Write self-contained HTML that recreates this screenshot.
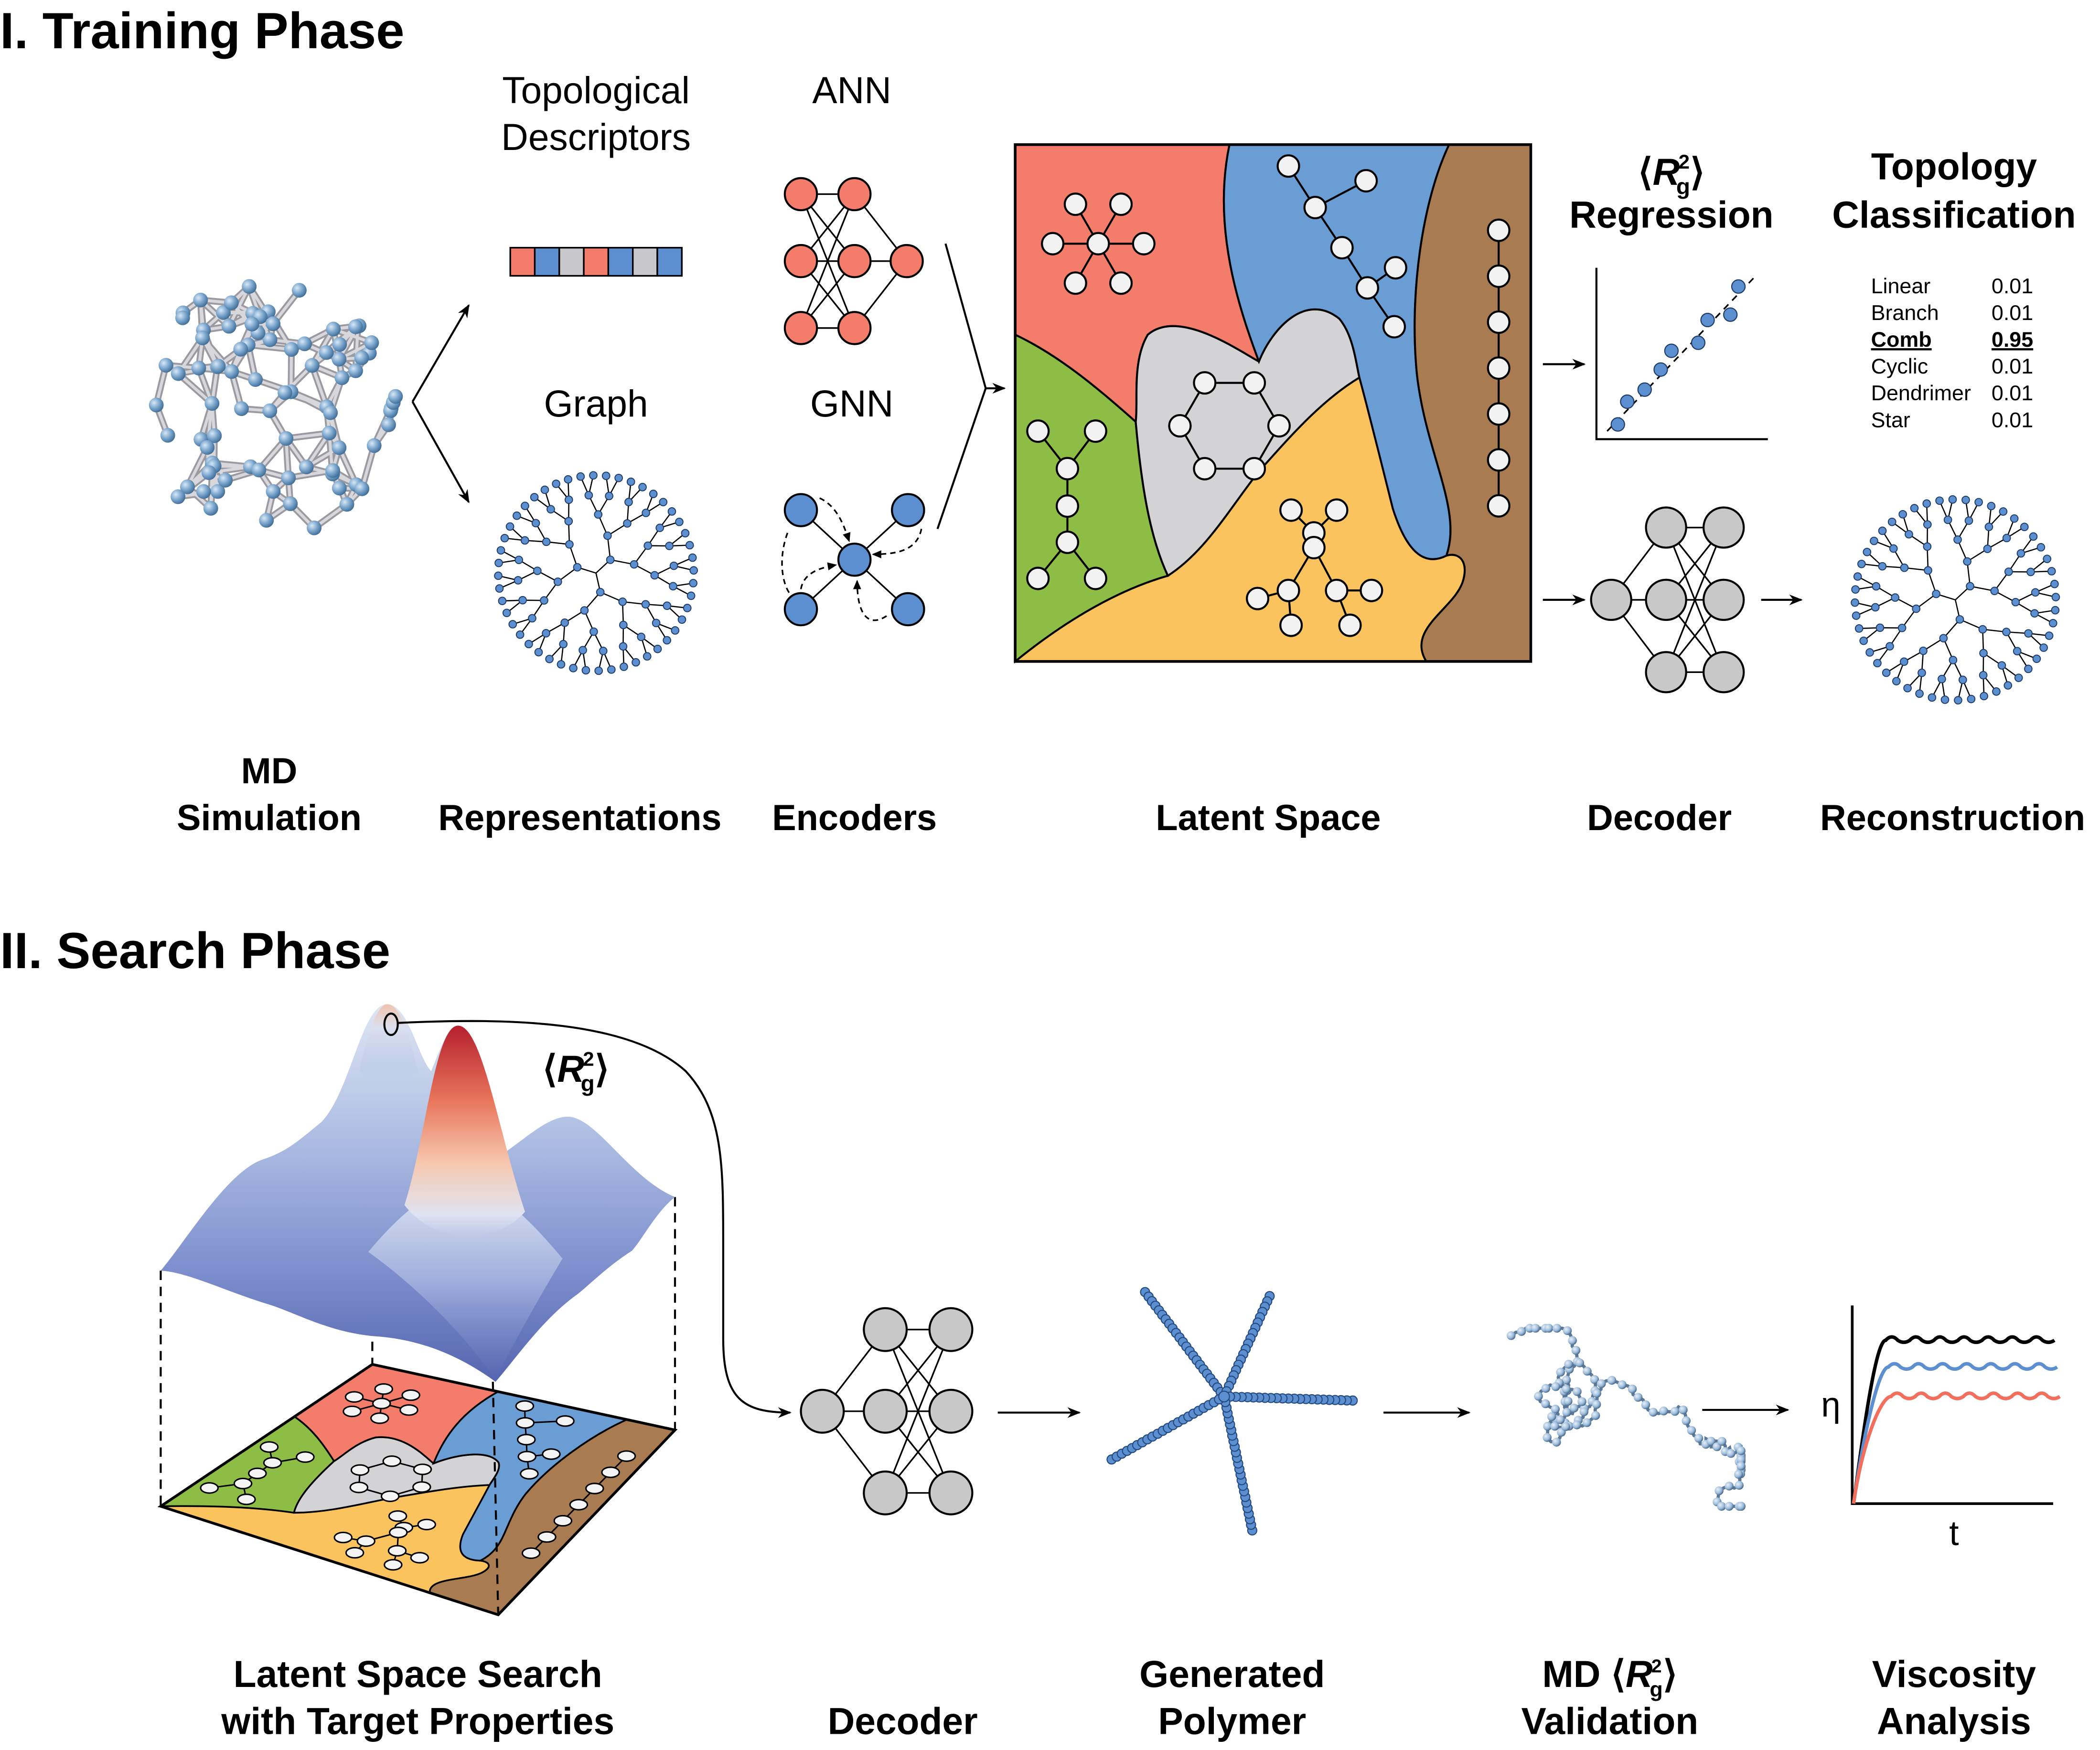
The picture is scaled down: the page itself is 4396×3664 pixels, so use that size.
<!DOCTYPE html>
<html><head><meta charset="utf-8">
<style>
html,body{margin:0;padding:0;background:#fff;}
svg{display:block;}
text{font-family:"Liberation Sans",Arial,sans-serif;}
</style></head>
<body>
<svg id="s" width="4396" height="3664" viewBox="0 0 1568 1307" preserveAspectRatio="none" xmlns="http://www.w3.org/2000/svg">
<defs>
<marker id="ah" markerWidth="10" markerHeight="10" refX="9" refY="5" orient="auto" markerUnits="userSpaceOnUse"><path d="M0,1 L10,5 L0,9 L3,5Z" fill="#000"/></marker>
<marker id="ahs" markerWidth="7" markerHeight="7" refX="6" refY="3.5" orient="auto" markerUnits="userSpaceOnUse"><path d="M0,0.5 L7,3.5 L0,6.5Z" fill="#000"/></marker>
<radialGradient id="ball" cx="0.35" cy="0.35" r="0.7"><stop offset="0" stop-color="#d8e8f6"/><stop offset="0.5" stop-color="#7fa9cf"/><stop offset="1" stop-color="#3d6b95"/></radialGradient>
<radialGradient id="ball2" cx="0.35" cy="0.35" r="0.7"><stop offset="0" stop-color="#e8f0f8"/><stop offset="0.6" stop-color="#9cbcdb"/><stop offset="1" stop-color="#3f6184"/></radialGradient>
<linearGradient id="surf" x1="0" y1="0" x2="0" y2="1"><stop offset="0" stop-color="#dfe6f3"/><stop offset="0.3" stop-color="#b4c4e6"/><stop offset="0.7" stop-color="#7d8fcd"/><stop offset="1" stop-color="#5566b0"/></linearGradient>
<linearGradient id="redpk" x1="0" y1="0" x2="0" y2="1"><stop offset="0" stop-color="#b5202e"/><stop offset="0.35" stop-color="#e8745a"/><stop offset="0.65" stop-color="#f6c7ae"/><stop offset="0.9" stop-color="#dfe4f2"/><stop offset="1" stop-color="#c9d4ee" stop-opacity="0"/></linearGradient>
<linearGradient id="hill" x1="0" y1="0" x2="0" y2="1"><stop offset="0" stop-color="#e9ecf6" stop-opacity="0.9"/><stop offset="0.5" stop-color="#b8c6e8" stop-opacity="0.6"/><stop offset="1" stop-color="#7d8fcd" stop-opacity="0"/></linearGradient>
<linearGradient id="lpk" x1="0" y1="0" x2="0" y2="1"><stop offset="0" stop-color="#f1c3ac"/><stop offset="0.3" stop-color="#dce0ee"/><stop offset="1" stop-color="#a9bce4" stop-opacity="0"/></linearGradient>
</defs>
<g id="root"></g>
</svg>
<script>
(function(){
var o=[];
function t(x,y,s,size,opt){opt=opt||{};o.push('<text x="'+x+'" y="'+y+'" font-size="'+size+'"'+(opt.b?' font-weight="bold"':'')+' text-anchor="'+(opt.a||'middle')+'"'+(opt.u?' text-decoration="underline"':'')+'>'+s+'</text>');}
function ln(x1,y1,x2,y2,w,extra){o.push('<line x1="'+x1+'" y1="'+y1+'" x2="'+x2+'" y2="'+y2+'" stroke="#000" stroke-width="'+(w||1.5)+'" '+(extra||'')+'/>');}
function c(x,y,r,f,sw){o.push('<circle cx="'+x+'" cy="'+y+'" r="'+r+'" fill="'+f+'" stroke="#000" stroke-width="'+(sw||1.5)+'"/>');}
function p(d,f,extra){o.push('<path d="'+d+'" fill="'+(f||'none')+'" '+(extra||'stroke="#000" stroke-width="1.5"')+'/>');}
var seed=7;function rnd(){seed=(seed*16807)%2147483647;return (seed-1)/2147483646;}

t(0,36,'I. Training Phase',38,{b:1,a:'start'});
t(0,723,'II. Search Phase',38,{b:1,a:'start'});
t(445,77,'Topological',28);t(445,112,'Descriptors',28);
t(636,77,'ANN',28);t(445,311,'Graph',28);t(636,311,'GNN',28);
t(201,585,'MD',27,{b:1});t(201,620,'Simulation',27,{b:1});
t(433,620,'Representations',27,{b:1});t(638,620,'Encoders',27,{b:1});
t(947,620,'Latent Space',27,{b:1});t(1239,620,'Decoder',27,{b:1});t(1458,620,'Reconstruction',27,{b:1});

var nodes=[];
for(var i=0;i<85;i++){var a=rnd()*6.283,r=Math.sqrt(rnd());nodes.push([198+Math.cos(a)*r*98,305+Math.sin(a)*r*98]);}
var es=[];
for(var i=0;i<nodes.length;i++){var cnt=0;for(var j=i+1;j<nodes.length;j++){var dx=nodes[i][0]-nodes[j][0],dy=nodes[i][1]-nodes[j][1];if(dx*dx+dy*dy<34*34&&cnt<3){es.push([i,j]);cnt++;}}}
es.forEach(function(e){var a=nodes[e[0]],b=nodes[e[1]];o.push('<line x1="'+a[0]+'" y1="'+a[1]+'" x2="'+b[0]+'" y2="'+b[1]+'" stroke="#9a9aa0" stroke-width="5" stroke-linecap="round"/>');});
es.forEach(function(e){var a=nodes[e[0]],b=nodes[e[1]];o.push('<line x1="'+a[0]+'" y1="'+a[1]+'" x2="'+b[0]+'" y2="'+b[1]+'" stroke="#d8d8dc" stroke-width="2.2" stroke-linecap="round"/>');});
nodes.forEach(function(n){o.push('<circle cx="'+n[0]+'" cy="'+n[1]+'" r="5.5" fill="url(#ball)"/>');});

ln(308,300,350,228,1.5,'marker-end="url(#ah)"');ln(308,300,350,375,1.5,'marker-end="url(#ah)"');

var cols=['#f47c6a','#5b8fd0','#c8c8cc','#f47c6a','#5b8fd0','#c8c8cc','#5b8fd0'];
cols.forEach(function(cc,i){o.push('<rect x="'+(381+i*18.3)+'" y="185" width="18.3" height="21" fill="'+cc+'" stroke="#000" stroke-width="1.2"/>');});

function tree(cx,cy,R){
  var lv=[0,0.2,0.4,0.6,0.8,1.0];var segs=[],dots=[];
  function rec(a0,a1,depth,px,py){
    var a=(a0+a1)/2;var r=R*lv[depth];var x=cx+Math.cos(a)*r,y=cy+Math.sin(a)*r;
    if(depth>0){segs.push([px,py,x,y]);dots.push([x,y]);}
    if(depth<5){var n=depth==0?3:2;for(var k=0;k<n;k++){rec(a0+(a1-a0)*k/n,a0+(a1-a0)*(k+1)/n,depth+1,x,y);}}
  }
  rec(0.3,0.3+6.283,0,cx,cy);
  segs.forEach(function(s){o.push('<line x1="'+s[0]+'" y1="'+s[1]+'" x2="'+s[2]+'" y2="'+s[3]+'" stroke="#000" stroke-width="0.9"/>');});
  dots.forEach(function(d){o.push('<circle cx="'+d[0]+'" cy="'+d[1]+'" r="2.8" fill="#5b8fd0" stroke="#1e3c66" stroke-width="0.7"/>');});
}
tree(445,428,73);
tree(1460,448,75);

var red='#f47c6a',blue='#5b8fd0',gray='#c8c8c8';
[145,195,245].forEach(function(y1){[145,195,245].forEach(function(y2){ln(598,y1,638,y2,1.2);});ln(638,y1,677,195,1.2);});
[145,195,245].forEach(function(y){c(598,y,12,red);c(638,y,12,red);});c(677,195,12,red);
[[598,381],[678,381],[598,455],[678,455]].forEach(function(q){ln(q[0],q[1],638,418,1.2);});
p('M588,398 C580,420 585,440 592,446','none','stroke="#000" stroke-width="1.2" stroke-dasharray="4,3"');
p('M612,372 C625,378 630,392 634,404','none','stroke="#000" stroke-width="1.2" stroke-dasharray="4,3" marker-end="url(#ahs)"');
p('M688,395 C685,410 672,414 652,414','none','stroke="#000" stroke-width="1.2" stroke-dasharray="4,3" marker-end="url(#ahs)"');
p('M662,460 C650,468 640,462 640,434','none','stroke="#000" stroke-width="1.2" stroke-dasharray="4,3" marker-end="url(#ahs)"');
p('M598,440 C600,428 612,424 624,422','none','stroke="#000" stroke-width="1.2" stroke-dasharray="4,3" marker-end="url(#ahs)"');
[[598,381],[678,381],[638,418],[598,455],[678,455]].forEach(function(q){c(q[0],q[1],12,blue);});
ln(706,182,736,290,1.5);ln(700,395,736,290,1.5);ln(736,290,750,290,1.5,'marker-end="url(#ah)"');

var X0=758,Y0=108,X1=1143,Y1=494;
var R={
 yellow:'M758,108 L1143,108 L1143,494 L758,494 Z',
 red:'M758,108 L918,108 C905,170 925,230 940,270 C925,262 880,230 857,250 C845,270 850,300 848,315 C820,290 790,265 758,250 Z',
 green:'M758,250 C790,265 820,290 848,315 C852,360 858,400 872,430 C830,442 790,468 758,494 Z',
 gray:'M848,315 C850,300 845,270 857,250 C880,230 925,262 940,270 C950,245 975,218 1000,238 C1010,250 1012,268 1015,282 C985,300 960,330 940,352 C918,380 900,412 872,430 C858,400 852,360 848,315 Z',
 blue:'M918,108 L1082,108 C1062,150 1052,220 1058,280 C1065,340 1092,380 1080,415 C1060,425 1048,405 1040,380 C1030,340 1020,300 1015,282 C1012,268 1010,250 1000,238 C975,218 950,245 940,270 C925,230 905,170 918,108 Z',
 brown:'M1082,108 L1143,108 L1143,494 L1065,494 C1050,470 1085,455 1092,435 C1097,420 1090,412 1080,415 C1092,380 1065,340 1058,280 C1052,220 1062,150 1082,108 Z'
};
var RC={yellow:'#fbc35d',red:'#f47c6a',green:'#8ebd45',gray:'#d3d3d5',blue:'#6a9dd4',brown:'#a97b51'};
var order=['yellow','red','green','gray','blue','brown'];
order.forEach(function(k){o.push('<path d="'+R[k]+'" fill="'+RC[k]+'" stroke="#000" stroke-width="1.5"/>');});
o.push('<rect x="758" y="108" width="385" height="386" fill="none" stroke="#000" stroke-width="2"/>');

var mols=[];
function star(cx,cy,rr){var n=[[cx,cy]],e=[];for(var i=0;i<6;i++){var a=i*Math.PI/3;n.push([cx+Math.cos(a)*rr,cy+Math.sin(a)*rr]);e.push([0,i+1]);}return {n:n,e:e};}
mols.push(star(820,182,34));
mols.push({n:[[962,124],[982,155],[1002,185],[1021,215],[1041,244],[1020,135],[1042,200]],e:[[0,1],[1,2],[2,3],[3,4],[1,5],[3,6]]});
var ring={n:[],e:[]};for(var i=0;i<6;i++){var a=i*Math.PI/3;ring.n.push([918+Math.cos(a)*37,318+Math.sin(a)*37]);ring.e.push([i,(i+1)%6]);}mols.push(ring);
mols.push({n:[[775,322],[818,322],[797,350],[797,378],[797,405],[775,432],[818,432]],e:[[0,2],[1,2],[2,3],[3,4],[4,5],[4,6]]});
mols.push({n:[[981,398],[964,381],[998,381],[981,409],[962,441],[998,441],[939,447],[964,467],[1008,467],[1024,441]],e:[[0,3],[3,4],[3,5],[4,6],[4,7],[5,8],[5,9],[0,1],[0,2]]});
var lin={n:[],e:[]};for(var i=0;i<7;i++){lin.n.push([1119,172+i*34.3]);if(i)lin.e.push([i-1,i]);}mols.push(lin);
mols.forEach(function(m){m.e.forEach(function(e){var a=m.n[e[0]],b=m.n[e[1]];ln(a[0],a[1],b[0],b[1],1.5);});m.n.forEach(function(q){c(q[0],q[1],8,'#f2f2f2');});});

ln(1152,272,1183,272,1.5,'marker-end="url(#ah)"');ln(1152,448,1183,448,1.5,'marker-end="url(#ah)"');
o.push('<text x="1248" y="138" font-size="28" text-anchor="middle" font-weight="bold">⟨<tspan font-style="italic">R</tspan><tspan font-size="15" dy="-12" dx="-1">2</tspan><tspan font-size="17" dy="19" dx="-10">g</tspan><tspan dy="-7">⟩</tspan></text>');
t(1248,170,'Regression',28,{b:1});
t(1459,134,'Topology',28,{b:1});t(1459,170,'Classification',28,{b:1});
p('M1192,200 L1192,328 L1320,328','none','stroke="#000" stroke-width="1.5"');
ln(1200,322,1310,207,1.2,'stroke-dasharray="5,4"');
[[1208,317],[1215,300],[1228,291],[1240,276],[1248,262],[1268,256],[1275,239],[1292,235],[1298,214]].forEach(function(q){o.push('<circle cx="'+q[0]+'" cy="'+q[1]+'" r="5" fill="#5b8fd0" stroke="#1e3c66" stroke-width="0.8"/>');});
var tb=[['Linear','0.01'],['Branch','0.01'],['Comb','0.95'],['Cyclic','0.01'],['Dendrimer','0.01'],['Star','0.01']];
tb.forEach(function(r,i){var u=i==2;t(1397,219+i*20,r[0],16,{a:'start',b:u,u:u});t(1487,219+i*20,r[1],16,{a:'start',b:u,u:u});});

function dec(x1,x2,x3,yc,dy,r){var ys=[yc-dy,yc,yc+dy];ys.forEach(function(y){ln(x1,yc,x2,y,1.2);ys.forEach(function(y2){ln(x2,y,x3,y2,1.2);});});ys.forEach(function(y){c(x2,y,r,gray);c(x3,y,r,gray);});c(x1,yc,r,gray);}
dec(1203,1244,1287,448,54,15);
ln(1315,448,1345,448,1.5,'marker-end="url(#ah)"');
dec(614,661,710,1054,61,16);

var T=[278,1019],Rr=[504,1068],B=[372,1206],L=[120,1125];
function mp(x,y){var u=(x-X0)/(X1-X0),v=(y-Y0)/(Y1-Y0);
 var px=T[0]*(1-u)*(1-v)+Rr[0]*u*(1-v)+B[0]*u*v+L[0]*(1-u)*v;
 var py=T[1]*(1-u)*(1-v)+Rr[1]*u*(1-v)+B[1]*u*v+L[1]*(1-u)*v;return [px.toFixed(1),py.toFixed(1)];}
function tp(d){return d.replace(/(-?[\d.]+),(-?[\d.]+)/g,function(m,a,b){var q=mp(+a,+b);return q[0]+','+q[1];});}
ln(120,949,120,1125,1.5,'stroke-dasharray="7,5"');ln(504,894,504,1068,1.5,'stroke-dasharray="7,5"');
ln(278,906,278,1019,1.5,'stroke-dasharray="7,5"');
order.forEach(function(k){o.push('<path d="'+tp(R[k])+'" fill="'+RC[k]+'" stroke="#000" stroke-width="1.3"/>');});
o.push('<path d="'+tp('M758,108 L1143,108 L1143,494 L758,494 Z')+'" fill="none" stroke="#000" stroke-width="2"/>');
ln(368,1032,372,1206,1.5,'stroke-dasharray="7,5"');
mols.forEach(function(m){m.e.forEach(function(e){var a=mp(m.n[e[0]][0],m.n[e[0]][1]),b=mp(m.n[e[1]][0],m.n[e[1]][1]);ln(a[0],a[1],b[0],b[1],1.1);});m.n.forEach(function(q){var a=mp(q[0],q[1]);o.push('<ellipse cx="'+a[0]+'" cy="'+a[1]+'" rx="6.5" ry="3.8" fill="#f4f4f4" stroke="#000" stroke-width="1.1"/>');});});

// surface
o.push('<path d="M120,949 C140,925 170,875 196,866 C215,860 225,850 240,838 C262,815 270,750 289,750 C305,750 312,790 322,800 C330,780 335,766 342,766 C352,766 365,820 378,860 C395,848 410,834 424,834 C445,834 470,880 504,894 C490,905 480,925 472,934 C455,945 445,955 432,966 C405,985 385,1015 370,1032 C340,1010 310,1000 280,998 C245,995 220,980 200,974 C170,965 140,950 120,949 Z" fill="url(#surf)"/>');
o.push('<path d="M268,800 C275,770 282,750 289,750 C298,750 305,770 312,800 C300,810 280,810 268,800Z" fill="url(#lpk)"/>');
o.push('<path d="M275,935 C300,905 325,885 345,885 C370,885 395,910 420,940 C405,965 385,1000 370,1030 C345,995 310,960 275,935 Z" fill="url(#hill)"/>');
o.push('<path d="M302,900 C318,850 325,766 342,766 C360,766 372,845 392,905 C370,930 325,930 302,900 Z" fill="url(#redpk)"/>');
o.push('<ellipse cx="292" cy="765" rx="5" ry="8" fill="none" stroke="#000" stroke-width="1.5"/>');
p('M297,764 C380,760 470,762 512,800 C540,830 540,870 540,930 L540,1000 C540,1045 555,1055 590,1055','none','stroke="#000" stroke-width="1.5" marker-end="url(#ah)"');
o.push('<text x="430" y="808" font-size="28" text-anchor="middle" font-weight="bold">⟨<tspan font-style="italic">R</tspan><tspan font-size="15" dy="-12" dx="-1">2</tspan><tspan font-size="17" dy="19" dx="-10">g</tspan><tspan dy="-7">⟩</tspan></text>');

ln(745,1055,806,1055,1.5,'marker-end="url(#ah)"');ln(1033,1055,1097,1055,1.5,'marker-end="url(#ah)"');ln(1271,1053,1335,1053,1.5,'marker-end="url(#ah)"');

var cx=914,cy=1043;
[[855,965],[948,968],[1010,1046],[935,1143],[830,1090]].forEach(function(e){var dx=e[0]-cx,dy=e[1]-cy,d=Math.sqrt(dx*dx+dy*dy),n=Math.round(d/4.3);for(var i=n;i>=1;i--){var x=cx+dx*i/n,y=cy+dy*i/n;o.push('<circle cx="'+x.toFixed(1)+'" cy="'+y.toFixed(1)+'" r="3.4" fill="#5b8fd0" stroke="#244a80" stroke-width="0.8"/>');}});
o.push('<circle cx="914" cy="1043" r="4" fill="#5b8fd0" stroke="#244a80" stroke-width="0.8"/>');

seed=42;var pts=[],x=1125,y=1000,ang=0.3;
for(var i=0;i<200;i++){
  var prog=i/200; var cxT=1130+prog*150, cyT=1010+prog*100;
  ang+=(rnd()-0.5)*1.9;
  var dx=cxT-x,dy=cyT-y,dd=Math.sqrt(dx*dx+dy*dy);
  if(dd>35){var ta=Math.atan2(dy,dx);ang=ang*0.6+ta*0.4;}
  x+=Math.cos(ang)*4.2;y+=Math.sin(ang)*4.2;
  x=Math.max(1115,Math.min(1300,x));y=Math.max(992,Math.min(1125,y));
  pts.push([x,y]);}
var dd='M'+pts.map(function(q){return q[0].toFixed(1)+','+q[1].toFixed(1);}).join(' L');
o.push('<path d="'+dd+'" fill="none" stroke="#5b7896" stroke-width="2.4"/>');
pts.forEach(function(q,i){if(i%2==0)o.push('<circle cx="'+q[0].toFixed(1)+'" cy="'+q[1].toFixed(1)+'" r="3.3" fill="url(#ball2)"/>');});

p('M1383,975 L1383,1123 L1533,1123','none','stroke="#000" stroke-width="2"');
function vc(yp,col,x0){var d='M1384,1123 C1390,1080 '+(x0-8)+','+yp+' '+x0+','+yp;for(var xx=x0;xx<1525;xx+=18){d+=' Q'+(xx+4.5)+','+(yp-5)+' '+(xx+9)+','+yp+' Q'+(xx+13.5)+','+(yp+3)+' '+(xx+18)+','+yp;}o.push('<path d="'+d+'" fill="none" stroke="'+col+'" stroke-width="2.6"/>');}
vc(1001,'#000',1408);vc(1021,'#5b8fd0',1410);vc(1043,'#f26f5e',1412);
t(1367,1058,'η',26,{});t(1459,1154,'t',26,{});

t(312,1260,'Latent Space Search',28,{b:1});t(312,1295,'with Target Properties',28,{b:1});
t(674,1295,'Decoder',28,{b:1});
t(920,1260,'Generated',28,{b:1});t(920,1295,'Polymer',28,{b:1});
o.push('<text x="1202" y="1260" font-size="28" text-anchor="middle" font-weight="bold">MD ⟨<tspan font-style="italic">R</tspan><tspan font-size="14" dy="-11" dx="-1">2</tspan><tspan font-size="16" dy="18" dx="-9">g</tspan><tspan dy="-7">⟩</tspan></text>');
t(1202,1295,'Validation',28,{b:1});
t(1459,1260,'Viscosity',28,{b:1});t(1459,1295,'Analysis',28,{b:1});

document.getElementById('root').innerHTML=o.join('');
})();
</script>
</body></html>
